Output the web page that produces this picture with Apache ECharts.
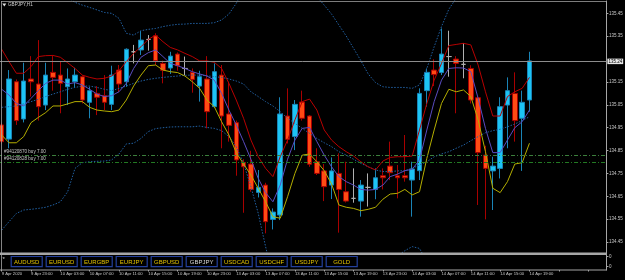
<!DOCTYPE html>
<html><head><meta charset="utf-8">
<script src="https://cdn.jsdelivr.net/npm/echarts@6/dist/echarts.min.js"></script>
<style>html,body{margin:0;padding:0;background:#000;}#c{width:625px;height:280px;}</style>
</head><body><div id="c"></div>
<script>
// ---- data ----
const chartTitle = 'GBPJPY,H1';
const timeLabels = ['9 Apr 2020','9 Apr 23:00','10 Apr 03:00','10 Apr 07:00','10 Apr 11:00','10 Apr 15:00','10 Apr 19:00','10 Apr 23:00','13 Apr 03:00','13 Apr 07:00','13 Apr 11:00','13 Apr 15:00','13 Apr 19:00','13 Apr 23:00','14 Apr 03:00','14 Apr 07:00','14 Apr 11:00','14 Apr 15:00','14 Apr 19:00'];
const open = [134.962,134.900,135.151,134.988,135.163,135.141,135.049,135.192,135.180,135.129,
 135.151,135.173,135.061,135.100,135.090,135.052,135.202,135.151,135.282,135.290,
 135.336,135.352,135.231,135.211,135.272,135.209,135.192,135.132,135.163,135.042,
 135.180,135.010,134.972,134.798,134.791,134.667,134.699,134.549,134.568,135.001,
 134.911,135.062,135.001,134.801,134.761,134.699,134.750,134.670,134.641,134.629,
 134.689,134.680,134.740,134.782,134.740,134.740,134.721,134.762,135.112,135.202,
 135.191,135.261,135.250,135.227,135.209,135.081,134.830,134.761,134.772,135.049,
 135.100,134.991,135.071];
const close = [134.889,135.163,134.981,135.154,135.151,135.042,135.180,135.170,135.144,135.163,
 135.180,135.071,135.112,135.083,135.061,135.180,135.141,135.293,135.282,135.333,
 135.336,135.243,135.201,135.263,135.221,135.209,135.161,135.173,135.020,135.195,
 135.001,134.960,134.809,134.779,134.680,134.689,134.539,134.581,135.010,134.899,
 135.052,134.991,134.790,134.750,134.692,134.761,134.680,134.629,134.641,134.699,
 134.689,134.731,134.731,134.753,134.731,134.731,134.769,135.100,135.192,135.182,
 135.272,135.261,135.231,135.227,135.071,134.841,134.772,134.782,135.042,135.112,
 134.981,135.061,135.242];
const low = [134.879,134.860,134.962,134.973,135.086,134.981,135.027,135.112,135.013,135.049,
 135.126,135.056,134.991,135.005,135.027,135.027,135.107,135.129,135.231,135.268,
 135.287,135.224,135.144,135.185,135.199,135.180,135.103,135.064,134.947,135.039,
 134.860,134.889,134.740,134.578,134.670,134.645,134.488,134.505,134.546,134.881,
 134.852,134.981,134.779,134.743,134.629,134.638,134.491,134.623,134.622,134.561,
 134.605,134.637,134.680,134.721,134.641,134.714,134.561,134.721,135.042,135.132,
 135.180,135.173,135.013,135.166,135.056,134.612,134.549,134.590,134.728,134.860,
 134.889,134.761,135.020];
const high = [134.972,135.202,135.161,135.234,135.263,135.333,135.234,135.263,135.239,135.209,
 135.212,135.179,135.129,135.132,135.180,135.221,135.224,135.297,135.312,135.373,
 135.355,135.363,135.243,135.282,135.279,135.261,135.209,135.199,135.263,135.231,
 135.224,135.151,134.981,134.812,134.849,134.765,134.709,134.597,135.083,135.122,
 135.071,135.112,135.005,134.860,134.791,134.820,134.838,134.801,134.772,134.721,
 134.750,134.772,134.772,134.889,134.787,134.918,134.801,135.122,135.209,135.249,
 135.384,135.374,135.263,135.319,135.223,135.086,134.871,134.823,135.083,135.170,
 135.192,135.112,135.282];
const maHigh = [135.293,135.239,135.188,135.188,135.217,135.261,135.265,135.266,135.258,135.234,
 135.209,135.180,135.170,135.163,135.166,135.176,135.199,135.239,135.275,135.304,
 135.336,135.355,135.326,135.301,135.290,135.275,135.261,135.242,135.242,135.236,
 135.209,135.144,135.071,134.991,134.896,134.823,134.772,134.736,134.823,134.896,
 134.984,135.064,135.075,135.027,134.940,134.896,134.867,134.845,134.826,134.801,
 134.779,134.765,134.804,134.820,134.823,134.823,134.826,134.940,135.056,135.158,
 135.231,135.309,135.314,135.319,135.312,135.224,135.107,135.001,135.001,135.086,
 135.107,135.122,135.170];
const maClose = [135.118,135.093,135.056,135.045,135.078,135.112,135.144,135.158,135.158,135.141,
 135.147,135.137,135.118,135.097,135.086,135.090,135.107,135.144,135.209,135.258,
 135.278,135.290,135.261,135.231,135.221,135.209,135.195,135.185,135.176,135.158,
 135.100,135.027,134.962,134.889,134.812,134.728,134.666,134.626,134.699,134.812,
 134.896,134.947,134.951,134.889,134.830,134.779,134.736,134.714,134.699,134.680,
 134.677,134.680,134.699,134.736,134.747,134.762,134.768,134.809,134.940,135.064,
 135.158,135.209,135.212,135.211,135.195,135.078,134.947,134.841,134.841,134.896,
 134.950,134.976,135.027];
const maLow = [134.918,134.884,134.884,134.911,134.972,134.995,135.016,135.045,135.045,135.054,
 135.064,135.064,135.039,135.027,135.023,135.020,135.027,135.071,135.132,135.180,
 135.221,135.224,135.202,135.195,135.191,135.176,135.151,135.122,135.071,135.042,
 134.976,134.918,134.841,134.791,134.743,134.685,134.626,134.561,134.554,134.648,
 134.750,134.830,134.835,134.801,134.762,134.704,134.612,134.602,134.597,134.587,
 134.593,134.602,134.637,134.660,134.663,134.680,134.656,134.670,134.816,134.940,
 135.056,135.118,135.107,135.115,135.086,134.984,134.845,134.685,134.666,134.714,
 134.791,134.797,134.882];
const bbUpper = [135.596,135.588,135.581,135.574,135.567,135.559,135.552,135.545,135.535,135.520,
 135.498,135.486,135.476,135.465,135.454,135.450,135.428,135.363,135.355,135.374,
 135.380,135.384,135.392,135.398,135.402,135.403,135.406,135.406,135.406,135.409,
 135.421,135.447,135.494,135.552,135.654,135.771,135.887,135.946,135.916,135.844,
 135.756,135.669,135.588,135.523,135.486,135.447,135.399,135.351,135.297,135.243,
 135.185,135.147,135.129,135.126,135.126,135.126,135.122,135.137,135.209,135.304,
 135.392,135.468,135.516,135.567,135.596,135.610,135.610,135.596,135.596,135.610,
 135.625,135.632,135.640];
const bbMiddle = [135.039,135.042,135.045,135.054,135.064,135.074,135.086,135.097,135.107,135.118,
 135.126,135.132,135.132,135.126,135.118,135.112,135.122,135.132,135.144,135.154,
 135.161,135.166,135.170,135.173,135.176,135.179,135.180,135.180,135.177,135.173,
 135.170,135.163,135.154,135.141,135.107,135.086,135.064,135.045,135.020,134.991,
 134.969,134.947,134.925,134.903,134.884,134.867,134.845,134.830,134.812,134.794,
 134.779,134.765,134.758,134.758,134.761,134.762,134.772,134.787,134.801,134.823,
 134.835,134.845,134.860,134.874,134.893,134.911,134.928,134.937,134.943,134.954,
 134.966,134.981,134.998];
const bbLower = [134.502,134.539,134.575,134.590,134.593,134.597,134.602,134.612,134.626,134.670,
 134.772,134.797,134.801,134.803,134.804,134.809,134.835,134.879,134.882,134.903,
 134.933,134.946,134.950,134.953,134.954,134.954,134.954,134.957,134.951,134.947,
 134.937,134.911,134.867,134.794,134.692,134.575,134.430,134.298,134.269,134.284,
 134.313,134.342,134.357,134.364,134.371,134.374,134.379,134.386,134.389,134.393,
 134.393,134.389,134.383,134.379,134.389,134.412,134.430,134.422,134.364,134.284,
 134.226,134.196,134.182,134.175,134.175,134.175,134.182,134.196,134.211,134.226,
 134.240,134.255,134.269];
const yTickValues = [135.45,135.35,135.15,135.05,134.95,134.85,134.75,134.65,134.55,134.45];
const bidPrice = 135.242;
const bidLabel = '135.24';
const orderLabels = ['#94120870 buy 7.00', '#94120828 buy 7.00'];
const orderPrices = [134.830, 134.801];
const symbols = ['AUDUSD','EURUSD','EURGBP','EURJPY','GBPUSD','GBPJPY','USDCAD','USDCHF','USDJPY','GOLD'];
const activeSymbol = 'GBPJPY';
const subLabels = ['0', '0'];

// ---- chart ----
const SLOTS = 83;
const cats = Array.from({length: SLOTS}, (_, i) => String(i));
const candles = open.map((o, i) => [o, close[i], low[i], high[i]]);
const sans = '"Liberation Sans", Arial, sans-serif';
const gridL = -1.965, gridW = 608.39;
const frameC = '#a6a6a6';
const txtC = '#c8c8c8';

function lineSeries(data, color, dotted) {
  return {type: 'line', data: data, xAxisIndex: 0, yAxisIndex: 0, symbol: 'none', showSymbol: false,
    clip: true, z: 4, silent: true,
    lineStyle: {color: color, width: 1, type: dotted ? [1.5, 1.5] : 'solid'}};
}

const chart = echarts.init(document.getElementById('c'), null, {renderer: 'canvas', devicePixelRatio: 1});
const option = {
  backgroundColor: '#000',
  animation: false,
  grid: [
    {left: gridL, top: 1, width: gridW, height: 252, outerBoundsMode: 'none', containLabel: false},
    {left: gridL, top: 253, width: gridW, height: 17, outerBoundsMode: 'none', containLabel: false}
  ],
  xAxis: [
    {type: 'category', gridIndex: 0, data: cats, boundaryGap: true,
      axisLine: {show: false}, axisTick: {show: false}, axisLabel: {show: false}, splitLine: {show: false}},
    {type: 'category', gridIndex: 1, data: cats, boundaryGap: true,
      axisLine: {show: false},
      axisTick: {show: true, interval: 3, alignWithLabel: true, length: 1.5, lineStyle: {color: frameC}},
      axisLabel: {show: true, interval: 3, align: 'left', margin: 2, fontSize: 4.2, fontFamily: sans, color: txtC,
        formatter: (v, i) => (i % 4 === 0 && timeLabels[i / 4]) ? timeLabels[i / 4] : ''},
      splitLine: {show: false}}
  ],
  yAxis: [
    {type: 'value', gridIndex: 0, position: 'right', min: 134.402, max: 135.504, scale: true,
      axisLine: {show: true, lineStyle: {color: frameC}},
      axisTick: {show: true, length: 2, customValues: yTickValues, lineStyle: {color: frameC}},
      axisLabel: {show: true, customValues: yTickValues, margin: 2.5, fontSize: 4.5, fontFamily: sans, color: txtC,
        formatter: v => v.toFixed(2)},
      splitLine: {show: false}},
    {type: 'value', gridIndex: 1, position: 'right', min: 0, max: 1,
      axisLine: {show: true, lineStyle: {color: frameC}},
      axisTick: {show: true, length: 2, customValues: [0.78, 0.2], lineStyle: {color: frameC}},
      axisLabel: {show: true, customValues: [0.78, 0.2], margin: 2.5, fontSize: 4.5, fontFamily: sans, color: txtC,
        formatter: (v) => v > 0.5 ? subLabels[0] : subLabels[1]},
      splitLine: {show: false}}
  ],
  series: [
    {type: 'line', data: [], xAxisIndex: 0, yAxisIndex: 0, z: 1, silent: true,
      markLine: {symbol: 'none', silent: true, animation: false,
        data: [
          {yAxis: bidPrice, lineStyle: {color: '#8c8c8c', type: 'solid', width: 1},
            label: {show: true, position: 'end', formatter: bidLabel, fontSize: 4.5, fontFamily: sans,
              color: '#000', backgroundColor: '#e6e6e6', padding: [0.5, 1, 0, 1], distance: 1}},
          {yAxis: orderPrices[0], lineStyle: {color: '#3c7f3c', type: [4, 2, 1, 2], width: 1},
            label: {show: true, position: 'insideStartTop', formatter: orderLabels[0], fontSize: 4.6, fontFamily: sans,
              color: txtC, distance: [6, 0.8]}},
          {yAxis: orderPrices[1], lineStyle: {color: '#237a23', type: [4, 2, 1, 2], width: 1},
            label: {show: true, position: 'insideStartTop', formatter: orderLabels[1], fontSize: 4.6, fontFamily: sans,
              color: txtC, distance: [6, 0.8]}}
        ]}},
    {type: 'candlestick', data: candles, xAxisIndex: 0, yAxisIndex: 0, z: 2, barWidth: 5, silent: true, clip: true,
      itemStyle: {color: '#1cc4f4', color0: '#ff4b14', borderColor: '#1a84b6', borderColor0: '#a80000',
        borderColorDoji: '#b0b0b0', borderWidth: 1}},
    lineSeries(bbUpper, '#2160a2', true),
    lineSeries(bbMiddle, '#2160a2', true),
    lineSeries(bbLower, '#2160a2', true),
    lineSeries(maHigh, '#b80000', false),
    lineSeries(maClose, '#5a4cc0', false),
    lineSeries(maLow, '#b4ae00', false)
  ],
  graphic: {elements: [
    {type: 'rect', shape: {x: 1, y: 1, width: 605.5, height: 0.8}, style: {fill: frameC}, silent: true, z: 10},
    {type: 'rect', shape: {x: 1, y: 1, width: 0.8, height: 269}, style: {fill: frameC}, silent: true, z: 10},
    {type: 'rect', shape: {x: 0, y: 252.5, width: 606.5, height: 2.5}, style: {fill: frameC}, silent: true, z: 10},
    {type: 'rect', shape: {x: 0, y: 269.6, width: 606.8, height: 0.9}, style: {fill: frameC}, silent: true, z: 10},
    {type: 'polygon', shape: {points: [[2.3, 3.6], [6.3, 3.6], [4.3, 6.4]]}, style: {fill: '#e0e0e0'}, silent: true, z: 10},
    {type: 'text', x: 8, y: 5.2, silent: true, z: 10,
      style: {text: chartTitle, fill: '#d0d0d0', font: '4.6px ' + sans, verticalAlign: 'middle', align: 'left'}},
    {type: 'text', x: 2.5, y: 259, silent: true, z: 10,
      style: {text: '*', fill: '#d0d0d0', font: '6px ' + sans, verticalAlign: 'middle', align: 'left'}}
  ].concat(symbols.map((s, k) => ({type: 'group', x: 10.7 + 35 * k, y: 256, silent: true, z: 10, children: [
      {type: 'rect', shape: {x: 0.5, y: 0.5, width: 31, height: 10.2}, style: {fill: '#000', stroke: '#24409c', lineWidth: 1.2}},
      {type: 'text', x: 16, y: 5.9, style: {text: s, fill: s === activeSymbol ? '#d8d8d8' : '#e2c200',
        font: '6px ' + sans, align: 'center', verticalAlign: 'middle'}}
  ]})))}
};
chart.setOption(option);
</script>
</body></html>
